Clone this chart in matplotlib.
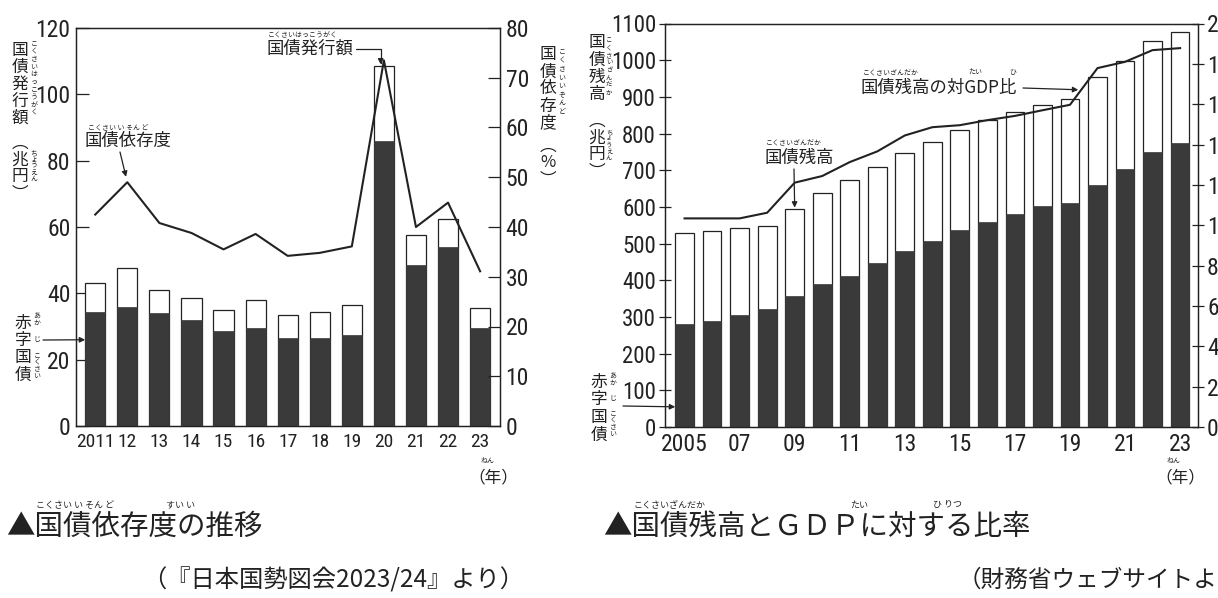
import matplotlib
matplotlib.use('Agg')
import matplotlib.pyplot as plt
from matplotlib import font_manager
import numpy as np

plt.rcParams['font.family'] = ['Noto Sans CJK JP', 'DejaVu Sans']

# pick a narrow sans font for the numbers, if one is installed
num_fp = None
narrow = []
for f in font_manager.fontManager.ttflist:
    nm = f.name + ' ' + str(f.fname)
    if 'Mono' in nm or 'Serif' in nm or 'Bold' in nm or 'Italic' in nm or 'Oblique' in nm:
        continue
    if f.weight not in (400, 'normal', 'regular'):
        continue
    if 'Narrow' in nm or 'Condensed' in nm or f.stretch in ('condensed', 'semi-condensed'):
        narrow.append(f)
for key in ['Liberation Sans Narrow', 'Roboto Condensed', 'LiberationSansNarrow', 'RobotoCondensed',
            'DejaVu', 'Open', 'Noto', '']:
    hits = [f for f in narrow if key in f.name or key in str(f.fname)]
    if hits:
        num_fp = font_manager.FontProperties(fname=hits[0].fname)
        break
if num_fp is None:
    num_fp = font_manager.FontProperties(family='Liberation Sans')
    XSIZE_L = 13
else:
    XSIZE_L = 14

# --- left chart: 国債依存度の推移 ---
years_l = ['2011', '12', '13', '14', '15', '16', '17', '18', '19', '20', '21', '22', '23']
issue_total = [43.0, 47.5, 41.0, 38.5, 35.0, 38.0, 33.5, 34.5, 36.5, 108.5, 57.5, 62.5, 35.5]
issue_deficit = [34.5, 36.0, 34.0, 32.0, 28.5, 29.5, 26.5, 26.5, 27.5, 86.0, 48.5, 54.0, 29.5]
dependency = [42.5, 49.0, 40.8, 38.8, 35.5, 38.6, 34.2, 34.8, 36.1, 73.5, 40.0, 44.9, 31.1]

# --- right chart: 国債残高とGDPに対する比率 ---
years_r = ['2005', '', '07', '', '09', '', '11', '', '13', '', '15', '', '17', '', '19', '', '21', '', '23']
debt_total = [528, 533, 542, 548, 594, 638, 672, 708, 747, 778, 809, 836, 858, 879, 893, 953, 999, 1051, 1077]
debt_deficit = [281, 289, 305, 322, 357, 391, 413, 447, 480, 508, 537, 558, 582, 602, 612, 661, 704, 751, 774]
debt_gdp = [103.4, 103.4, 103.4, 106.2, 121.1, 124.4, 131.3, 136.6, 144.5, 148.6, 149.6, 152.1, 154.2,
            157.0, 159.7, 177.9, 181.0, 186.8, 187.8]

W, H = 1218, 598
DARK = '#3a3a3a'
INK = '#222222'

fig = plt.figure(figsize=(W / 100, H / 100), dpi=100)


def px(x, y):
    return x / W, 1 - y / H


def vtext(x, y0, s, pitch, size):
    for i, ch in enumerate(s):
        fig.text(*px(x, y0 + i * pitch), ch, ha='center', va='center',
                 fontsize=size, color=INK)


def vparen(x, y0, inner, pitch, size):
    # vertical-form brackets around stacked characters
    vtext(x, y0, '\ufe35' + inner + '\ufe36', pitch, size)


def htext(x, y, s, size, **kw):
    fig.text(*px(x, y), s, ha='left', va='center', fontsize=size, color=INK, **kw)


def style_num(ax, xsize, ysize):
    for lab in ax.get_xticklabels():
        lab.set_fontproperties(num_fp)
        lab.set_fontsize(xsize)
    for lab in ax.get_yticklabels():
        lab.set_fontproperties(num_fp)
        lab.set_fontsize(ysize)


def frame(ax):
    for s in ax.spines.values():
        s.set_linewidth(0.9)
        s.set_color(INK)


arrow_kw = dict(arrowstyle='-|>', color=INK, lw=0.9, mutation_scale=8, shrinkA=0, shrinkB=0)

# ================= left chart =================
ax1 = fig.add_axes([76 / W, 1 - 426 / H, 424 / W, 398 / H])
xl = np.arange(len(years_l))
ax1.bar(xl, issue_total, width=0.63, color='white', edgecolor=INK, linewidth=0.9, zorder=2)
ax1.bar(xl, issue_deficit, width=0.63, color=DARK, edgecolor=DARK, linewidth=0.5, zorder=3)
ax1.set_xlim(-0.6, 12.62)
ax1.set_ylim(0, 120)
ax1.set_yticks(range(0, 121, 20))
ax1.set_xticks(xl)
ax1.set_xticklabels(years_l)
ax1.tick_params(axis='x', length=0, pad=5, colors=INK)
ax1.tick_params(axis='y', direction='in', length=9, width=0.9, pad=4, colors=INK)
style_num(ax1, XSIZE_L, 17)
frame(ax1)

ax1r = ax1.twinx()
ax1r.plot(xl, dependency, color=INK, lw=1.5, zorder=5)
ax1r.set_ylim(0, 80)
ax1r.set_yticks(range(0, 81, 10))
ax1r.tick_params(axis='y', direction='in', length=9, width=0.9, pad=4, colors=INK)
style_num(ax1r, XSIZE_L, 17)
frame(ax1r)

# y labels (vertical)
vtext(20, 50, '国債発行額', 17, 12)
vtext(34, 44, 'こくさいはっこうがく', 7.6, 5)
vparen(20, 143, '兆円', 17, 12)
vtext(34, 153, 'ちょうえん', 6.5, 5)
vtext(548, 55, '国債依存度', 17, 12)
vtext(562, 52, 'こくさいいぞんど', 8.5, 5)
vparen(548, 146, '%', 17, 12)

# annotations
htext(84, 141, '国債依存度', 12.5)
htext(88, 127, 'こくさい い そん ど', 5)
ax1r.annotate('', xy=(xl[1], dependency[1]), xytext=(120, H - 152), textcoords='figure pixels',
              arrowprops=dict(arrow_kw, shrinkB=4))
htext(266, 49, '国債発行額', 12.5)
htext(268, 35, 'こくさいはっこうがく', 5)
ax1.annotate('', xy=(xl[9] - 0.1, issue_total[9] + 0.5), xytext=(356, H - 49), textcoords='figure pixels',
             arrowprops=dict(arrow_kw, connectionstyle='angle,angleA=0,angleB=90,rad=0'))
vtext(23, 323, '赤字国債', 17.3, 12)
vtext(37, 316, 'あか', 6.5, 5)
vtext(37, 340, 'じ', 6.5, 5)
vtext(37, 356, 'こくさい', 6.5, 5)
ax1.annotate('', xy=(xl[0] - 0.315, 26), xytext=(43, H - 340), textcoords='figure pixels',
             arrowprops=arrow_kw)
htext(468, 478, '（年）', 12)
htext(481, 461, 'ねん', 5)

# ================= right chart =================
ax2 = fig.add_axes([665 / W, 1 - 427 / H, 533 / W, 403.5 / H])
xr = np.arange(len(years_r))
ax2.bar(xr, debt_total, width=0.68, color='white', edgecolor=INK, linewidth=0.9, zorder=2)
ax2.bar(xr, debt_deficit, width=0.68, color=DARK, edgecolor=DARK, linewidth=0.5, zorder=3)
ax2.set_xlim(-0.71, 18.65)
ax2.set_ylim(0, 1100)
ax2.set_yticks(range(0, 1101, 100))
ax2.set_xticks(xr)
ax2.set_xticklabels(years_r)
ax2.tick_params(axis='x', length=0, pad=4, colors=INK)
ax2.tick_params(axis='y', direction='inout', length=9, width=0.9, pad=2, colors=INK)
style_num(ax2, 17, 16.5)
frame(ax2)

ax2r = ax2.twinx()
ax2r.plot(xr, debt_gdp, color=INK, lw=1.5, zorder=5)
ax2r.set_ylim(0, 200)
ax2r.set_yticks(range(0, 201, 20))
ax2r.tick_params(axis='y', direction='inout', length=9, width=0.9, pad=2, colors=INK)
style_num(ax2r, 17, 17)
frame(ax2r)

vtext(597, 43, '国債残高', 17.3, 12)
vtext(609, 40, 'こくさいざんだか', 7.5, 4.6)
vparen(597, 121, '兆円', 17, 12)
vtext(609, 132, 'ちょうえん', 6.5, 4.6)
vtext(599, 382, '赤字国債', 17.7, 12)
vtext(613, 376, 'あか', 6.5, 5)
vtext(613, 399, 'じ', 6.5, 5)
vtext(613, 414, 'こくさい', 6.5, 5)
ax2.annotate('', xy=(xr[0] - 0.34, 55), xytext=(623, H - 406), textcoords='figure pixels',
             arrowprops=arrow_kw)

htext(764, 158, '国債残高', 12.5)
htext(766, 143, 'こくさいざんだか', 5)
ax2.annotate('', xy=(xr[4], debt_total[4] + 4), xytext=(794, H - 169), textcoords='figure pixels',
             arrowprops=arrow_kw)

htext(861, 88, '国債残高の対GDP比', 12.5)
htext(863, 73, 'こくさいざんだか', 5)
htext(968, 73, 'たい', 5)
htext(1009, 73, 'ひ', 5)
tip_x = 14.3
tip_y = np.interp(tip_x, xr, debt_gdp) + 2
ax2r.annotate('', xy=(tip_x, tip_y), xytext=(1023, H - 88), textcoords='figure pixels',
              arrowprops=arrow_kw)
htext(1155, 478, '（年）', 12)
htext(1167, 461, 'ねん', 5)

# ================= captions =================
htext(6, 527, '▲国債依存度の推移', 20.5)
htext(36, 505, 'こくさい い そん ど', 6.5)
htext(166, 505, 'すい い', 6.5)
htext(142, 580, '（『日本国勢図会2023/24』より）', 17.5)
htext(603, 527, '▲国債残高とＧＤＰに対する比率', 20.5)
htext(633, 505, 'こくさいざんだか', 6.5)
htext(850, 505, 'たい', 6.5)
htext(933, 505, 'ひ りつ', 6.5)
htext(958, 580, '（財務省ウェブサイトより）', 17)

fig.savefig('out.png', dpi=100)
